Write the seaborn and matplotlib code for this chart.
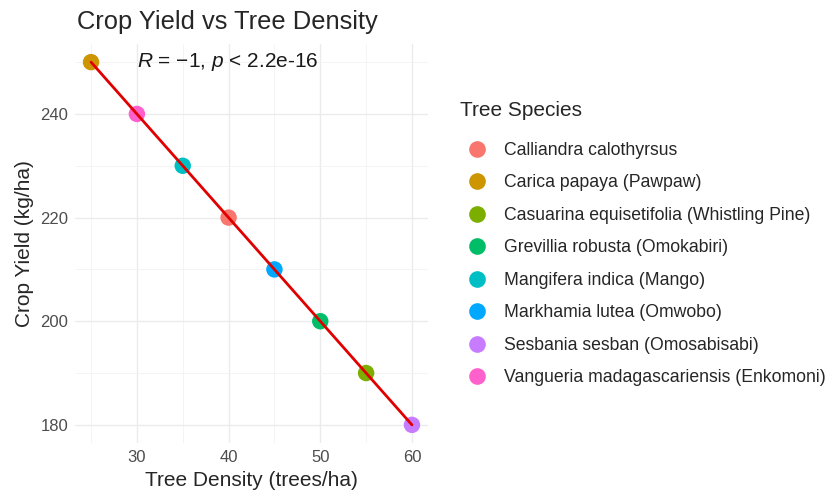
import matplotlib
matplotlib.use("Agg")
import matplotlib.pyplot as plt
import seaborn as sns
import pandas as pd
from matplotlib.ticker import MultipleLocator

# =====================================
# Data
# =====================================
species = [
    "Calliandra calothyrsus",
    "Carica papaya (Pawpaw)",
    "Casuarina equisetifolia (Whistling Pine)",
    "Grevillia robusta (Omokabiri)",
    "Mangifera indica (Mango)",
    "Markhamia lutea (Omwobo)",
    "Sesbania sesban (Omosabisabi)",
    "Vangueria madagascariensis (Enkomoni)",
]
tree_density = [40, 25, 55, 50, 35, 45, 60, 30]
crop_yield = [220, 250, 190, 200, 230, 210, 180, 240]

palette = ["#F8766D", "#CD9600", "#7CAE00", "#00BE67",
           "#00BFC4", "#00A9FF", "#C77CFF", "#FF61CC"]

df = pd.DataFrame({
    "Tree Species": species,
    "Tree Density": tree_density,
    "Crop Yield": crop_yield,
})

# =====================================
# Style
# =====================================
sns.set_style("white")
plt.rcParams["font.family"] = ["Liberation Sans", "DejaVu Sans"]
plt.rcParams["mathtext.fontset"] = "custom"
plt.rcParams["mathtext.rm"] = "Liberation Sans"
plt.rcParams["mathtext.it"] = "Liberation Sans:italic"

fig = plt.figure(figsize=(8.29, 4.97), dpi=100)
ax = fig.add_axes([75 / 829, 1 - 443 / 497, 353 / 829, 399 / 497])

sns.scatterplot(
    data=df,
    x="Tree Density",
    y="Crop Yield",
    hue="Tree Species",
    palette=palette,
    s=140,
    linewidth=0,
    ax=ax,
    zorder=3,
)

sns.regplot(
    data=df,
    x="Tree Density",
    y="Crop Yield",
    scatter=False,
    ci=None,
    color="#E00000",
    line_kws={"linewidth": 2, "zorder": 4},
    ax=ax,
)

ax.text(30, 250, r"$R$ = −1, $p$ < 2.2e-16", fontsize=15,
        ha="left", va="center", color="#1A1A1A")

# axes & grid
ax.set_xlim(23.25, 61.75)
ax.set_ylim(176.5, 253.5)
ax.xaxis.set_major_locator(MultipleLocator(10))
ax.xaxis.set_minor_locator(MultipleLocator(5))
ax.yaxis.set_major_locator(MultipleLocator(20))
ax.yaxis.set_minor_locator(MultipleLocator(10))
ax.grid(which="major", color="#EBEBEB", linewidth=1.0)
ax.grid(which="minor", color="#F3F3F3", linewidth=0.6)
ax.set_axisbelow(True)
for sp in ax.spines.values():
    sp.set_visible(False)
ax.tick_params(which="both", length=0, labelsize=12, labelcolor="#4D4D4D", pad=5)

ax.set_xlabel("Tree Density (trees/ha)", fontsize=15, labelpad=4)
ax.set_ylabel("Crop Yield (kg/ha)", fontsize=15, labelpad=4)

fig.text(77 / 829, 1 - 22 / 497, "Crop Yield vs Tree Density",
         fontsize=18.4, ha="left", va="center")

# legend (title drawn separately for exact spacing)
fig.text(460 / 829, 1 - 110 / 497, "Tree Species",
         fontsize=15, ha="left", va="center")

handles, labels = ax.get_legend_handles_labels()
leg = ax.legend(
    handles, labels,
    loc="upper left",
    bbox_to_anchor=(451 / 829, 1 - 133 / 497),
    bbox_transform=fig.transFigure,
    frameon=False,
    fontsize=12.7,
    labelspacing=0.88,
    handletextpad=0.5,
    borderpad=0,
)
for h in leg.legend_handles:
    h.set_markersize(12)

plt.savefig("out.png", dpi=100)
plt.close()
